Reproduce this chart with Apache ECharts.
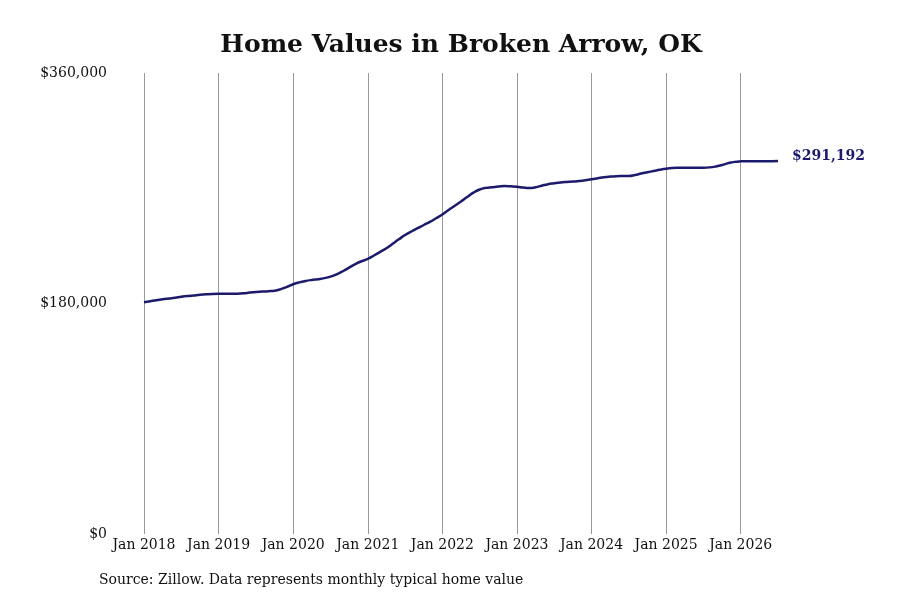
<!DOCTYPE html>
<html>
<head>
<meta charset="utf-8">
<title>Home Values in Broken Arrow, OK</title>
<script src="https://cdn.jsdelivr.net/npm/echarts@6/dist/echarts.min.js"></script>
<style>
  html, body { margin: 0; padding: 0; background: #fff; }
  #chart { width: 900px; height: 600px; }
</style>
</head>
<body>
<div id="chart"></div>
<script>
// monthly typical home value, Jan 2018 - Jul 2026
const startYear = 2018;
const values2018 = [181000, 181800, 182600, 183300, 183900, 184500, 185200, 185800, 186300, 186800, 187200, 187500];
const values2019 = [187600, 187600, 187600, 187700, 188000, 188500, 189000, 189300, 189600, 190000, 191200, 193000];
const values2020 = [195000, 196500, 197600, 198400, 199000, 199800, 201000, 202800, 205200, 208000, 210800, 213000];
const values2021 = [214800, 217500, 220300, 223100, 226600, 230100, 233500, 236200, 238800, 241300, 243800, 246600];
const values2022 = [249500, 253000, 256300, 259700, 263200, 266600, 269000, 270300, 270800, 271300, 271700, 271500];
const values2023 = [271200, 270500, 270100, 270800, 272000, 273200, 273900, 274500, 274900, 275200, 275700, 276300];
const values2024 = [277000, 277800, 278600, 279100, 279400, 279500, 279600, 280400, 281500, 282500, 283500, 284500];
const values2025 = [285300, 285800, 286000, 286100, 286100, 286100, 286100, 286300, 287000, 288200, 289600, 290600];
const values2026 = [291000, 291100, 291100, 291100, 291150, 291180, 291192];

const values = [].concat(values2018, values2019, values2020, values2021, values2022,
  values2023, values2024, values2025, values2026);

const monthNames = ['Jan', 'Feb', 'Mar', 'Apr', 'May', 'Jun', 'Jul', 'Aug', 'Sep', 'Oct', 'Nov', 'Dec'];
const months = values.map((v, i) => monthNames[i % 12] + ' ' + (startYear + Math.floor(i / 12)));

const yTicks = [0, 180000, 360000];

const navy = '#1c1a6c';
const font = 'DejaVu Serif';

const fmtMoney = v => '$' + v.toLocaleString('en-US');

const chart = echarts.init(document.getElementById('chart'));
chart.setOption({
  animation: false,
  backgroundColor: '#fff',
  textStyle: { fontFamily: font },
  title: {
    text: 'Home Values in Broken Arrow, OK',
    left: 456,
    top: 28,
    textAlign: 'center',
    textStyle: { fontFamily: font, fontSize: 25, fontWeight: 'bold', color: '#111' }
  },
  graphic: [{
    type: 'text',
    left: 99,
    top: 573,
    style: {
      text: 'Source: Zillow. Data represents monthly typical home value',
      font: '14px "DejaVu Serif"',
      fill: '#111'
    }
  }],
  grid: { left: 144, right: 122, top: 73, bottom: 66, containLabel: false },
  xAxis: {
    type: 'category',
    data: months,
    boundaryGap: false,
    axisLine: { show: false },
    axisTick: { show: false },
    axisLabel: {
      interval: i => i % 12 === 0,
      margin: 4,
      fontFamily: font,
      fontSize: 14,
      color: '#111'
    },
    splitLine: {
      show: true,
      interval: i => i % 12 === 0,
      lineStyle: { color: '#999', width: 1 }
    }
  },
  yAxis: {
    type: 'value',
    min: yTicks[0],
    max: yTicks[yTicks.length - 1],
    interval: yTicks[1] - yTicks[0],
    axisLine: { show: false },
    axisTick: { show: false },
    splitLine: { show: false },
    axisLabel: {
      margin: 37,
      fontFamily: font,
      fontSize: 14,
      color: '#111',
      formatter: fmtMoney
    }
  },
  series: [{
    type: 'line',
    data: values,
    smooth: true,
    showSymbol: false,
    symbol: 'none',
    lineStyle: { color: navy, width: 2.5 },
    endLabel: {
      show: true,
      distance: 14,
      offset: [0, -5],
      formatter: p => fmtMoney(p.value),
      fontFamily: font,
      fontSize: 14,
      fontWeight: 'bold',
      color: navy
    }
  }]
});
</script>
</body>
</html>
